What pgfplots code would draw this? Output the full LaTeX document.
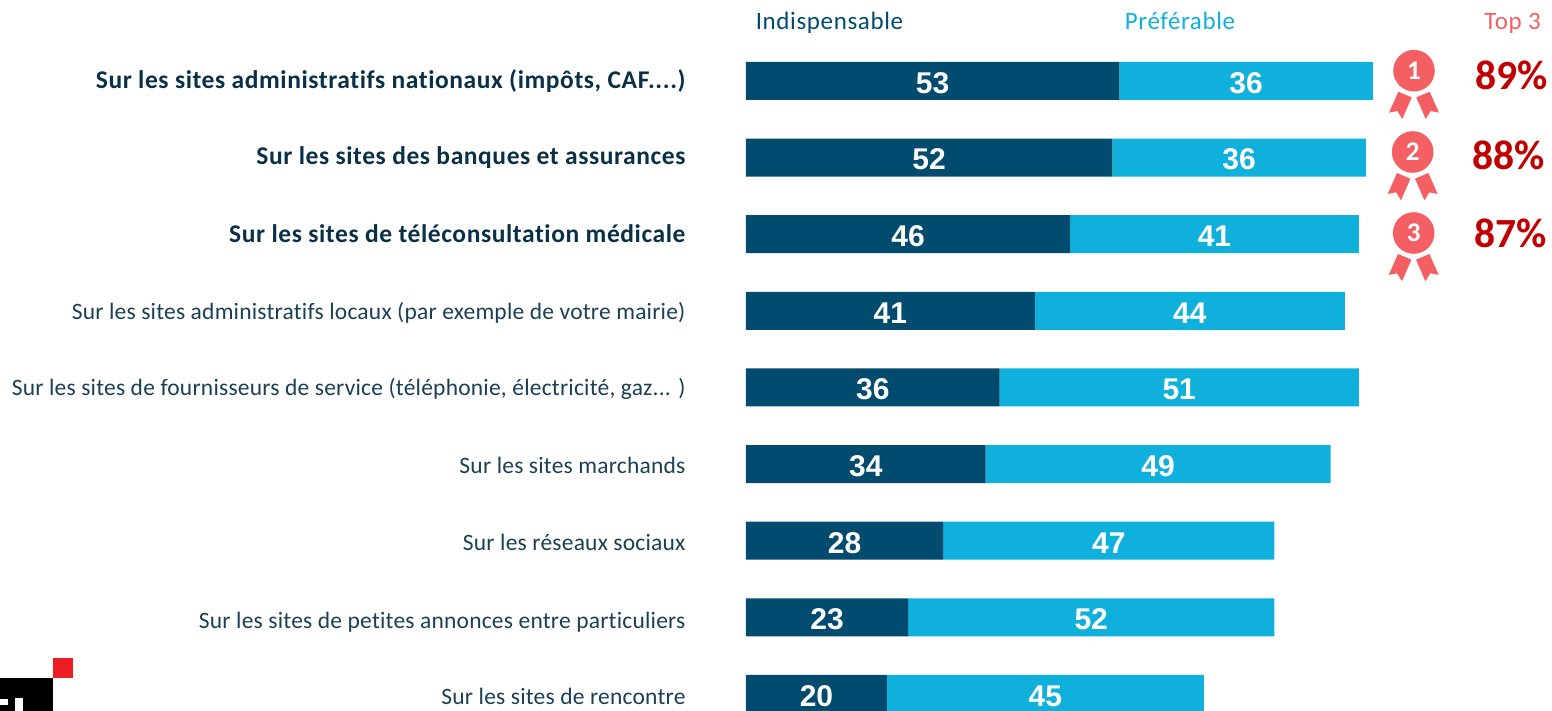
\documentclass[border=0pt]{standalone}
\usepackage{fontspec}
\setmainfont{Carlito}
\newfontfamily\arialfont{Liberation Sans}
\newfontfamily\labfont[LetterSpace=0.9,Ligatures=NoCommon]{Carlito}
\newfontfamily\labbold[LetterSpace=2.3,Ligatures=NoCommon]{Carlito}
\newfontfamily\headfont[LetterSpace=2.5,Ligatures=NoCommon]{Carlito}
\usepackage{pgfplots}
\usepackage{pgfplotstable}
\pgfplotsset{compat=1.18}
\definecolor{indisp}{HTML}{004B6E}
\definecolor{prefer}{HTML}{0FB1DC}
\definecolor{medal}{HTML}{F45F64}
\definecolor{pct}{HTML}{C00000}
\definecolor{lab}{HTML}{0A3048}
\definecolor{labn}{HTML}{1B3F55}
\definecolor{logored}{HTML}{EE1C25}
\pgfplotstableread{
y ind pre
0 53 36
1 52 36
2 46 41
3 41 44
4 36 51
5 34 49
6 28 47
7 23 52
8 20 45
}\scores
\newcommand{\boldlab}[1]{{\labbold\bfseries\fontsize{25.5}{25.5}\selectfont\textcolor{lab}{#1}}}
% page px -> picture pt, axis origin is at x=746, bottom of page
\newcommand{\medalat}[3]{%
  \begin{scope}[shift={(#1pt-746pt,711pt-#2pt)}]
    \fill[medal] (0,0) circle (20.8pt);
    \fill[medal] (-15.7pt,-21pt) -- (-2.3pt,-26.7pt) -- (-11.7pt,-48.3pt) -- (-16.7pt,-40.3pt) -- (-25pt,-42pt) -- cycle;
    \fill[medal] (15.7pt,-21pt) -- (2.3pt,-26.7pt) -- (11.7pt,-48.3pt) -- (16.7pt,-40.3pt) -- (25pt,-42pt) -- cycle;
    \node[white, font=\fontsize{27}{27}\selectfont\bfseries] at (0,0) {#3};
  \end{scope}}
\begin{document}
\begin{tikzpicture}
\useasboundingbox (-746pt,0pt) rectangle (806pt,711pt);
\begin{axis}[
  at={(0pt,0pt)}, anchor=south west,
  scale only axis, width=806pt, height=711pt,
  xbar stacked, bar width=38pt,
  xmin=0, xmax=114.41,
  ymin=-1.057, ymax=8.222, y dir=reverse,
  axis line style={draw=none},
  major tick length=0pt,
  xtick=\empty,
  ytick={0,1,2,3,4,5,6,7,8},
  yticklabels={
    {\boldlab{Sur les sites administratifs nationaux (impôts, CAF.{}.{}.{}.)}},
    {\raisebox{1pt}{\boldlab{Sur les sites des banques et assurances}}},
    {\raisebox{-1pt}{\boldlab{Sur les sites de téléconsultation médicale}}},
    {\raisebox{-1pt}{Sur les sites administratifs locaux (par exemple de votre mairie)}},
    {\raisebox{-1pt}{Sur les sites de fournisseurs de service (téléphonie, électricité, gaz.{}.{}. )}},
    {\raisebox{-2pt}{Sur les sites marchands}},
    {\raisebox{-2pt}{Sur les réseaux sociaux}},
    {\raisebox{-4pt}{Sur les sites de petites annonces entre particuliers}},
    {\raisebox{-3pt}{Sur les sites de rencontre}}},
  yticklabel style={font=\labfont\fontsize{23.5}{23.5}\selectfont, text=labn, xshift=-57pt, yshift=-2.5pt, text height=15pt, text depth=5pt},
  /pgf/number format/assume math mode=true,
  nodes near coords,
  every node near coord/.append style={font=\arialfont\fontsize{30}{30}\selectfont\bfseries, text=white, yshift=-2pt},
]
\addplot[fill=indisp, draw=none] table[x=ind, y=y] {\scores};
\addplot[fill=prefer, draw=none] table[x=pre, y=y] {\scores};
\end{axis}
\node[text=indisp, font=\headfont\fontsize{25}{25}\selectfont, anchor=base] at (83.5pt,711pt-30pt) {Indispensable};
\node[text=prefer, font=\headfont\fontsize{25}{25}\selectfont, anchor=base] at (434pt,711pt-30pt) {Préférable};
\node[text=medal, font=\headfont\fontsize{25}{25}\selectfont, anchor=base] at (766.5pt,711pt-30pt) {Top 3};
\medalat{1414}{70.7}{1}
\medalat{1412.7}{152}{2}
\medalat{1413.7}{233}{3}
\node[text=pct, font=\fontsize{41.5}{41.5}\selectfont\bfseries] at (1511.5pt-746pt,711pt-75pt) {89\%};
\node[text=pct, font=\fontsize{41.5}{41.5}\selectfont\bfseries] at (1508.5pt-746pt,711pt-155pt) {88\%};
\node[text=pct, font=\fontsize{41.5}{41.5}\selectfont\bfseries] at (1510.5pt-746pt,711pt-233pt) {87\%};
% logo, bottom left
\fill[black] (-746pt,0pt) rectangle (-693pt,33pt);
\fill[white] (-746pt,6pt) rectangle (-738pt,12pt);
\fill[white] (-731pt,0pt) rectangle (-723pt,13pt);
\fill[logored] (-693pt,33pt) rectangle (-673pt,53pt);
\end{tikzpicture}
\end{document}
